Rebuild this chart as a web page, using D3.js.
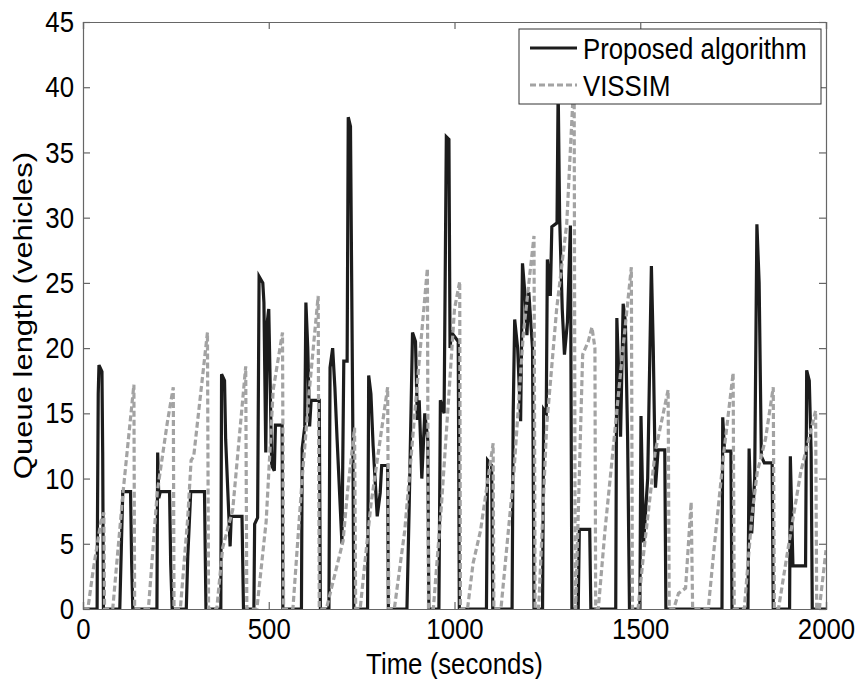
<!DOCTYPE html>
<html>
<head>
<meta charset="utf-8">
<script src="https://cdn.jsdelivr.net/npm/d3@7"></script>
<style>
  body { margin: 0; background: #fff; }
  text { font-family: "Liberation Sans", Arial, sans-serif; fill: #000; }
</style>
</head>
<body>
<div id="chart"></div>
<script>
// Proposed algorithm: time (s) and queue length (vehicles)
const proposedTime = [0, 38, 39, 41, 43, 51, 53, 55,
  99, 107, 128, 131, 134,
  199, 201, 204, 208, 233, 236, 240,
  278, 282, 290, 327, 331,
  371, 373, 381, 384, 396, 399, 428, 432,
  460, 462, 470, 474, 484, 487, 492, 496, 500, 508, 515, 518, 536, 538,
  588, 590, 597, 600, 605, 610, 614, 636, 639,
  662, 665, 672, 678, 684, 697, 702, 711, 714, 720, 726, 729,
  766, 769, 775, 781, 792, 800, 804, 820, 822,
  872, 878, 887, 895, 900, 905, 912, 920, 928, 931,
  958, 962, 972, 978, 985, 988, 992, 1010, 1013,
  1086, 1089, 1100, 1103,
  1155, 1158, 1162, 1170, 1178, 1183, 1190, 1195, 1200, 1210, 1214,
  1237, 1240, 1247, 1250, 1258, 1262, 1276, 1279, 1283, 1290, 1296, 1304, 1312, 1316,
  1333, 1336, 1364, 1367,
  1434, 1437, 1442, 1447, 1454, 1460, 1466, 1471,
  1499, 1502, 1509, 1520, 1530, 1535, 1541, 1548, 1566, 1569,
  1720, 1722, 1727, 1744, 1747,
  1790, 1793, 1800, 1808, 1814, 1820, 1826, 1834, 1855, 1858,
  1902, 1904, 1911, 1945, 1948, 1955, 1960, 1963, 2000];
const proposedQueue = [0, 0, 7, 16.5, 18.7, 18.2, 12, 0,
  0, 9, 9, 3.5, 0,
  0, 12, 8.5, 9, 9, 3.5, 0,
  0, 4, 9, 9, 0,
  0, 18, 17.5, 13, 4.8, 7.1, 7.1, 0,
  0, 6.5, 7, 25.5, 25, 23.5, 12, 22, 23, 11, 10.6, 14.1, 14.1, 0,
  0, 12.3, 14, 23.5, 20, 14, 16, 16, 0,
  0, 18.5, 20, 17, 13, 5, 19, 19, 37.7, 37, 15, 0,
  0, 17.9, 16.5, 12.5, 7.1, 8.9, 11, 11, 0,
  0, 7.8, 21.2, 20.5, 14.5, 16, 10, 15, 13, 0,
  0, 16, 15, 36.2, 36, 20, 21.2, 20.5, 0,
  0, 11.4, 11, 0,
  0, 15, 22.2, 20, 14.4, 26.5, 24, 21, 24.3, 20, 0,
  0, 15.3, 15, 26.8, 24, 29.3, 29.6, 40, 30, 23, 19.5, 22, 29.4, 0,
  0, 6.1, 6.1, 0,
  0, 22.3, 18, 13.2, 23.4, 22, 13.1, 0,
  0, 14.8, 5.1, 10, 26.3, 20, 9.3, 12.2, 12.2, 0,
  0, 14.7, 12.1, 12.1, 0,
  0, 12.3, 5.8, 10, 29.5, 25, 11.7, 11.2, 11.2, 0,
  0, 11.7, 3.3, 3.3, 18.3, 17.5, 12, 0, 0];

// VISSIM: time (s) and queue length (vehicles)
const vissimTime = [0, 13, 27, 48, 56, 58,
  80, 108, 137, 139,
  176, 200, 227, 243, 245,
  262, 282, 291, 298, 335, 338,
  360, 376, 403, 438, 441,
  468, 493, 512, 537, 540,
  565, 590, 610, 633, 636,
  655, 700, 712, 731, 734,
  746, 775, 800, 820, 823,
  838, 866, 886, 905, 927, 930,
  943, 965, 985, 1000, 1014, 1016,
  1035, 1050, 1070, 1104, 1106,
  1125, 1145, 1160, 1185, 1214, 1217,
  1226, 1228, 1248, 1275, 1302, 1322, 1325,
  1326, 1345, 1360, 1370, 1378, 1380,
  1387, 1405, 1425, 1450, 1476, 1479,
  1494, 1510, 1540, 1575, 1578,
  1590, 1603, 1622, 1637, 1641,
  1683, 1700, 1725, 1750, 1753,
  1780, 1800, 1815, 1837, 1858, 1861,
  1872, 1900, 1932, 1972, 1975,
  1982, 2000];
const vissimQueue = [0, 0, 2.9, 6.7, 7.4, 0,
  0, 9, 17.2, 0,
  0, 9, 14.3, 17, 0,
  0, 7, 11.4, 11.7, 21.2, 0,
  0, 4.7, 7.6, 18.6, 0,
  0, 6.7, 16.8, 21.2, 0,
  0, 10, 17, 24, 0,
  0, 5.2, 9, 13.9, 0,
  0, 8, 13, 17, 0,
  0, 6, 12.6, 19, 26.1, 0,
  0, 8, 16.5, 23, 25.1, 0,
  0, 3.5, 6, 12.7, 0,
  0, 6, 10.5, 21, 28.6, 0,
  0, 1, 14, 23, 29.5, 41, 0,
  0, 19.5, 20.5, 21.6, 20, 0,
  0, 6, 11.7, 19, 26.2, 0,
  0, 4.5, 12, 16.8, 0,
  0, 1.2, 1.6, 8.2, 0,
  0, 5, 12, 18.1, 0,
  0, 7, 10.5, 13, 17, 0,
  0, 5, 10.5, 15.2, 0,
  0, 4.5];

const xTicks = [0, 500, 1000, 1500, 2000];
const yTicks = [0, 5, 10, 15, 20, 25, 30, 35, 40, 45];
const seriesNames = ['Proposed algorithm', 'VISSIM'];

const width = 860;
const height = 679;
const margin = { top: 22, right: 34, bottom: 70, left: 83 };

// the figure's text is a little condensed (taller than wide)
const fontSize = 30;
const squeeze = 0.86;

const svg = d3.select('#chart')
  .append('svg')
  .attr('width', width)
  .attr('height', height)
  .style('background', '#fff');

const x = d3.scaleLinear().domain([0, 2000]).range([margin.left, width - margin.right]);
const y = d3.scaleLinear().domain([0, 45]).range([height - margin.bottom, margin.top]);

svg.append('clipPath').attr('id', 'plot-clip')
  .append('rect')
  .attr('x', margin.left)
  .attr('y', margin.top)
  .attr('width', x(2000) - x(0))
  .attr('height', y(0) - y(45));

const line = d3.line().x(d => x(d[0])).y(d => y(d[1]));
const proposed = d3.zip(proposedTime, proposedQueue);
const vissim = d3.zip(vissimTime, vissimQueue);

const plot = svg.append('g').attr('clip-path', 'url(#plot-clip)');

plot.append('path')
  .datum(proposed)
  .attr('fill', 'none')
  .attr('stroke', '#1c1c1c')
  .attr('stroke-width', 3.2)
  .attr('d', line);

plot.append('path')
  .datum(vissim)
  .attr('fill', 'none')
  .attr('stroke', '#a3a3a3')
  .attr('stroke-width', 3.2)
  .attr('stroke-dasharray', '6,3')
  .attr('d', line);

// axes, MATLAB style: box with inward ticks on all four sides
const axisColor = '#666';

const axisBottomG = svg.append('g')
  .attr('transform', `translate(0,${y(0)})`)
  .call(d3.axisBottom(x).tickValues(xTicks).tickSize(-7).tickPadding(9).tickFormat(d3.format('d')));
const axisTopG = svg.append('g')
  .attr('transform', `translate(0,${y(45)})`)
  .call(d3.axisTop(x).tickValues(xTicks).tickSize(-7).tickFormat(''));
const axisLeftG = svg.append('g')
  .attr('transform', `translate(${x(0)},0)`)
  .call(d3.axisLeft(y).tickValues(yTicks).tickSize(-7).tickPadding(9));
const axisRightG = svg.append('g')
  .attr('transform', `translate(${x(2000)},0)`)
  .call(d3.axisRight(y).tickValues(yTicks).tickSize(-7).tickFormat(''));

[axisBottomG, axisTopG, axisLeftG, axisRightG].forEach(g => {
  g.select('.domain').attr('stroke', axisColor).attr('stroke-width', 1.2);
  g.selectAll('.tick line').attr('stroke', axisColor).attr('stroke-width', 1.2);
  g.selectAll('.tick text')
    .attr('fill', '#000')
    .style('font-size', fontSize + 'px')
    .style('font-family', '"Liberation Sans", Arial, sans-serif')
    .attr('x', function() { return (+d3.select(this).attr('x') || 0) / squeeze; })
    .attr('transform', `scale(${squeeze},1)`);
});

svg.append('text')
  .attr('transform', `scale(${squeeze},1)`)
  .attr('x', (x(0) + x(2000)) / 2 / squeeze)
  .attr('y', 674)
  .attr('text-anchor', 'middle')
  .style('font-size', fontSize + 'px')
  .text('Time (seconds)');

svg.append('text')
  .attr('transform', `translate(32,${(y(0) + y(45)) / 2}) rotate(-90) scale(1,${squeeze})`)
  .attr('text-anchor', 'middle')
  .style('font-size', (fontSize + 1) + 'px')
  .text('Queue length (vehicles)');

// legend
const legend = svg.append('g').attr('transform', 'translate(519,29)');
legend.append('rect')
  .attr('width', 302)
  .attr('height', 75)
  .attr('fill', '#fff')
  .attr('stroke', '#333')
  .attr('stroke-width', 1);

const items = legend.selectAll('g.item')
  .data(seriesNames)
  .enter().append('g')
  .attr('class', 'item')
  .attr('transform', (d, i) => `translate(0,${19 + i * 37})`);

items.append('line')
  .attr('x1', 11).attr('x2', 58)
  .attr('stroke', (d, i) => i === 0 ? '#1c1c1c' : '#a3a3a3')
  .attr('stroke-width', 3.2)
  .attr('stroke-dasharray', (d, i) => i === 0 ? null : '6,3');

items.append('text')
  .attr('transform', `scale(${squeeze},1)`)
  .attr('x', 64 / squeeze)
  .attr('dy', '0.36em')
  .style('font-size', fontSize + 'px')
  .text(d => d);
</script>
</body>
</html>
